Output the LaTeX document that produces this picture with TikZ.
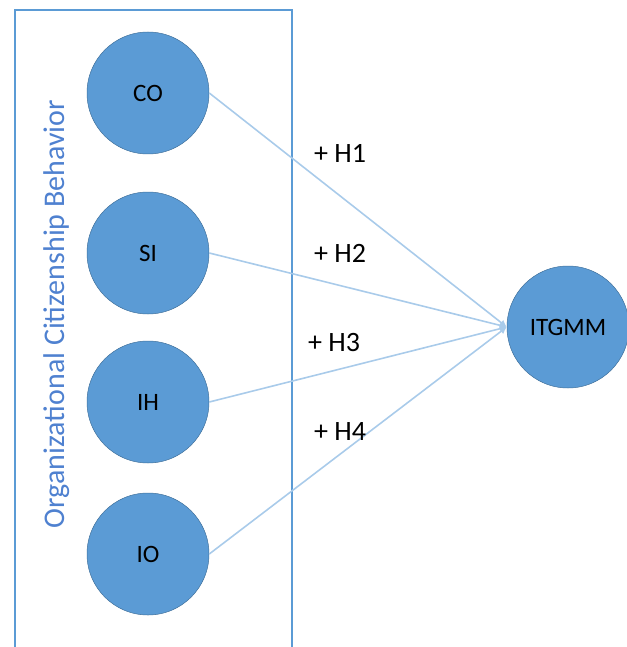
\documentclass[tikz,border=0pt]{standalone}
\usepackage{fontspec}
\setmainfont{Carlito}
\usetikzlibrary{arrows.meta}
\definecolor{circblue}{HTML}{5B9BD5}
\definecolor{circedge}{HTML}{41719C}
\definecolor{boxblue}{HTML}{5B9BD5}
\definecolor{lineblue}{HTML}{A9CBEA}
\definecolor{titleblue}{HTML}{4F81D0}

\begin{document}
\begin{tikzpicture}[x=1pt,y=-1pt]
        \tikzstyle{every node}=[inner sep=0pt]
        \tikzstyle{factor}=[circle, fill=circblue, draw=circedge, line width=0.5pt, minimum size=122pt, font=\fontsize{25}{25}\selectfont]
        \tikzstyle{hyp}=[font=\fontsize{28}{28}\selectfont]
        \tikzstyle{link}=[draw=lineblue, line width=1.6pt, -{Latex[length=7pt,width=7pt]}]
        \useasboundingbox (0,0) rectangle (626,647);
        \draw[boxblue, line width=1.8pt] (15,647) -- (15,10) -- (292,10) -- (292,647);
        \node[rotate=90, text=titleblue, font=\fontsize{30}{30}\selectfont] (ocb) at (57,314) {Organizational Citizenship Behavior};
        \node[factor] (co) at (148,93) {CO};
        \node[factor] (si) at (148,253) {SI};
        \node[factor] (ih) at (148,402) {IH};
        \node[factor] (io) at (148,554) {IO};
        \node[factor] (itgmm) at (568,327) {ITGMM};
        \draw[link] (co.east) -- (itgmm.west);
        \draw[link] (si.east) -- (itgmm.west);
        \draw[link] (ih.east) -- (itgmm.west);
        \draw[link] (io.east) -- (itgmm.west);
        \node[hyp] (h1) at (340,153) {+ H1};
        \node[hyp] (h2) at (340,253) {+ H2};
        \node[hyp] (h3) at (334,343) {+ H3};
        \node[hyp] (h4) at (340,432) {+ H4};
    \end{tikzpicture}
\end{document}
